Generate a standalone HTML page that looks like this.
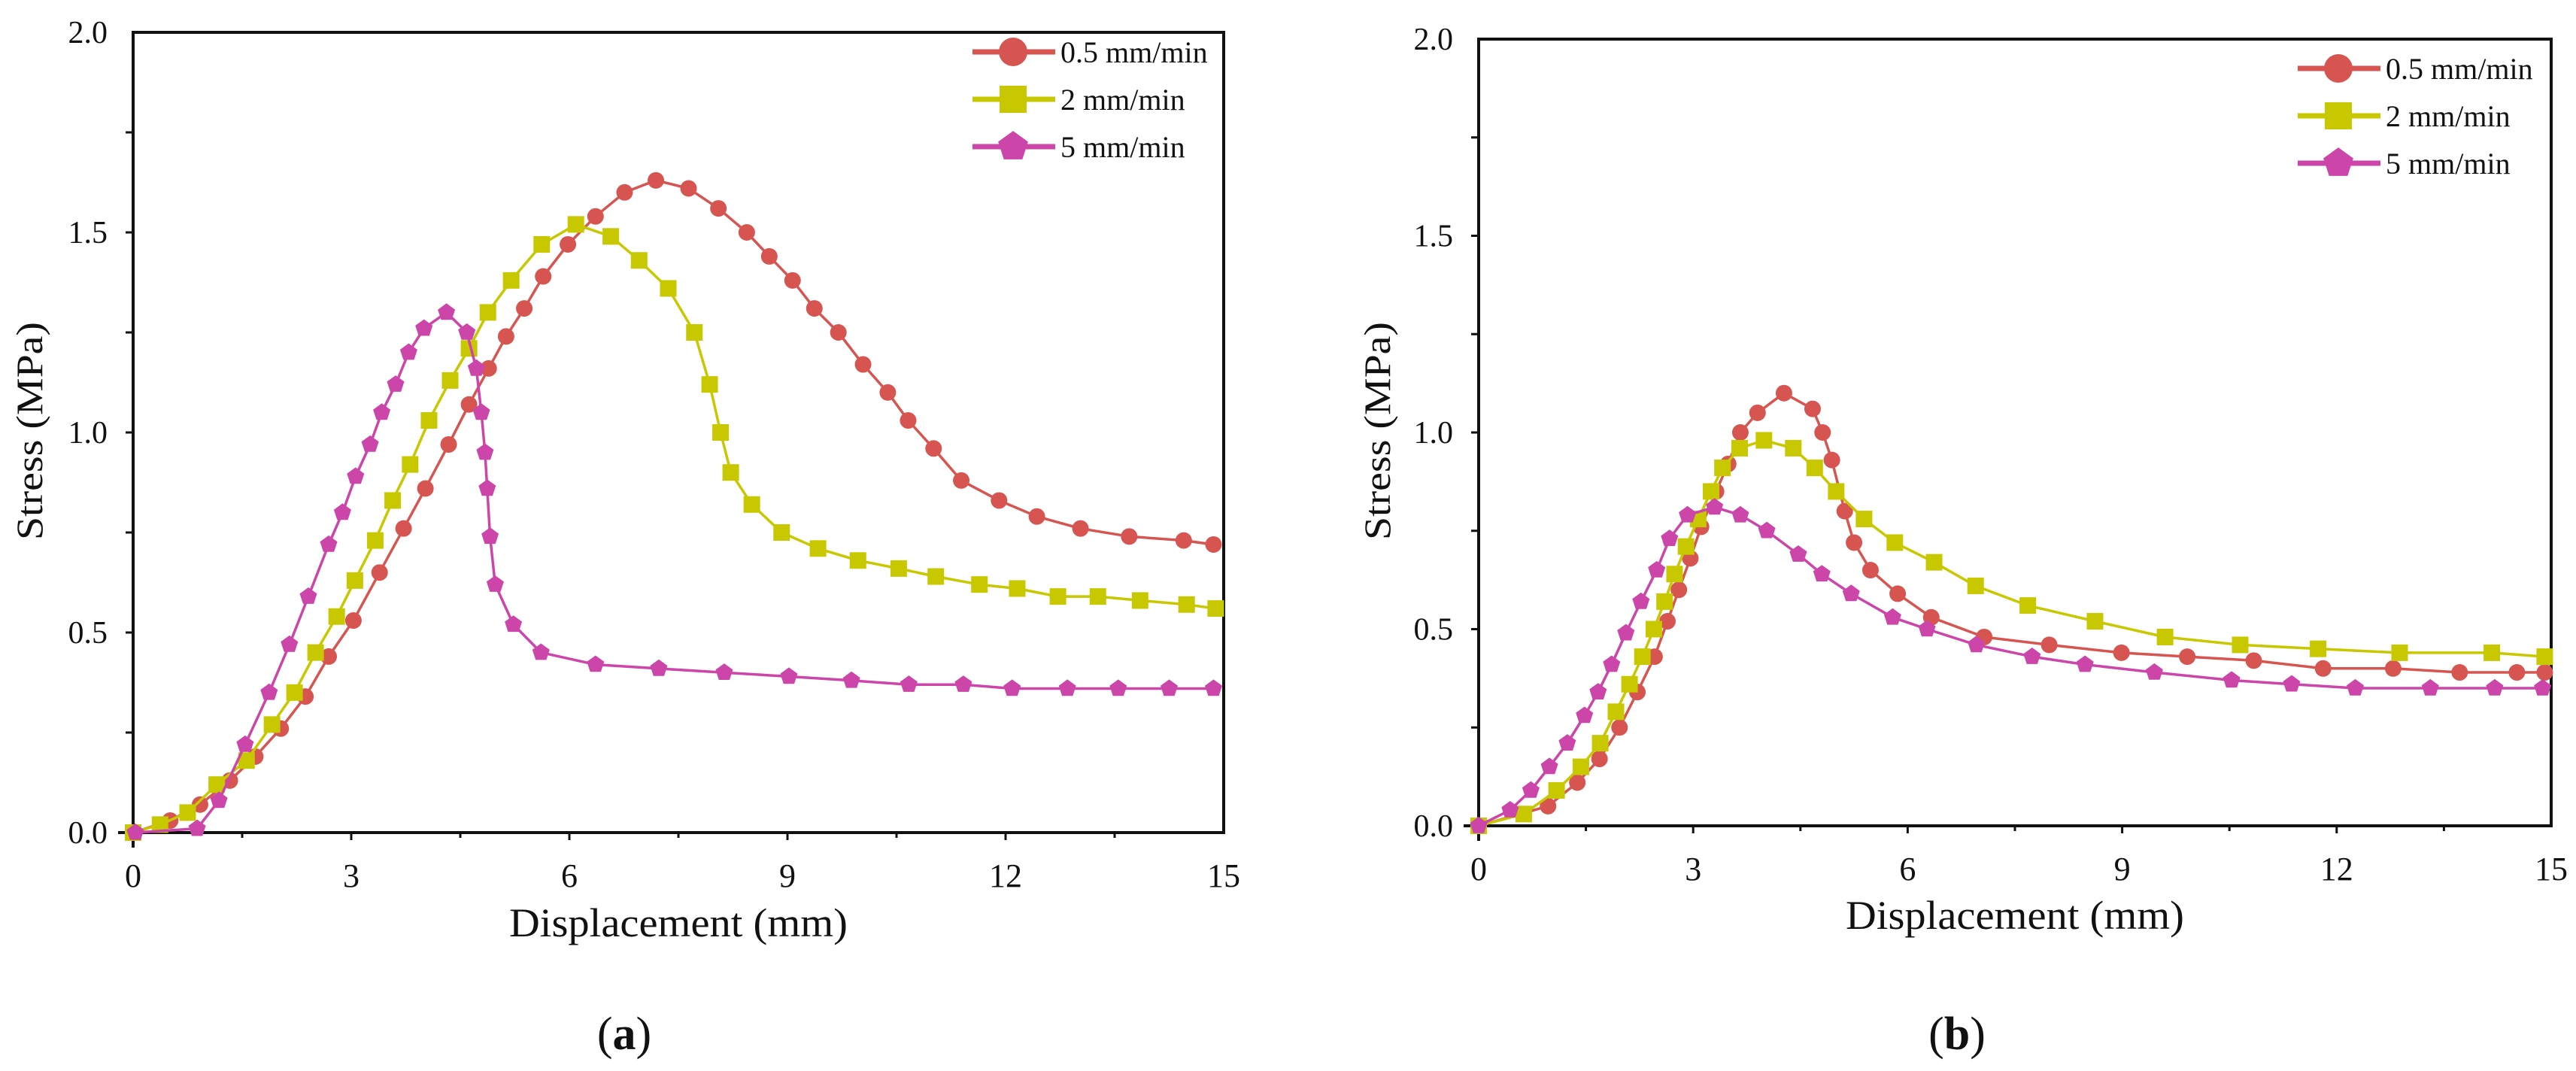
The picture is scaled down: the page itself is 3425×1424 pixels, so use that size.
<!DOCTYPE html>
<html><head><meta charset="utf-8"><style>
html,body{margin:0;padding:0;background:#fff;}
svg{display:block;}
svg text{font-family:"Liberation Serif","Times New Roman",serif;}
</style></head><body>
<svg id="fig" width="3425" height="1424" viewBox="0 0 3425 1424" xmlns="http://www.w3.org/2000/svg">
<rect width="3425" height="1424" fill="#fff"/>
</svg>
<script>
// ---- Panel (a) data ----
const aRedX=[0,0.51,0.92,1.33,1.68,2.03,2.37,2.69,3.03,3.39,3.72,4.02,4.34,4.62,4.89,5.13,5.38,5.64,5.98,6.36,6.76,7.19,7.64,8.05,8.44,8.75,9.07,9.37,9.70,10.04,10.38,10.66,11.01,11.39,11.91,12.43,13.03,13.70,14.45,14.86];
const aRedY=[0,0.03,0.07,0.13,0.19,0.26,0.34,0.44,0.53,0.65,0.76,0.86,0.97,1.07,1.16,1.24,1.31,1.39,1.47,1.54,1.60,1.63,1.61,1.56,1.50,1.44,1.38,1.31,1.25,1.17,1.10,1.03,0.96,0.88,0.83,0.79,0.76,0.74,0.73,0.72];
const aYelX=[0,0.37,0.75,1.15,1.56,1.91,2.22,2.51,2.80,3.05,3.33,3.57,3.81,4.07,4.36,4.62,4.88,5.20,5.62,6.09,6.57,6.96,7.36,7.72,7.93,8.08,8.22,8.51,8.92,9.42,9.97,10.53,11.04,11.64,12.16,12.72,13.27,13.85,14.49,14.89];
const aYelY=[0,0.02,0.05,0.12,0.18,0.27,0.35,0.45,0.54,0.63,0.73,0.83,0.92,1.03,1.13,1.21,1.30,1.38,1.47,1.52,1.49,1.43,1.36,1.25,1.12,1.00,0.90,0.82,0.75,0.71,0.68,0.66,0.64,0.62,0.61,0.59,0.59,0.58,0.57,0.56];
const aMagX=[0.03,0.88,1.18,1.54,1.87,2.15,2.41,2.69,2.88,3.06,3.26,3.42,3.61,3.79,4.00,4.31,4.59,4.72,4.79,4.84,4.87,4.91,4.98,5.23,5.61,6.36,7.23,8.13,9.02,9.88,10.67,11.42,12.09,12.85,13.55,14.25,14.86];
const aMagY=[0,0.01,0.08,0.22,0.35,0.47,0.59,0.72,0.80,0.89,0.97,1.05,1.12,1.20,1.26,1.30,1.25,1.16,1.05,0.95,0.86,0.74,0.62,0.52,0.45,0.42,0.41,0.40,0.39,0.38,0.37,0.37,0.36,0.36,0.36,0.36,0.36];
// ---- Panel (b) data ----
const bRedX=[0,0.97,1.38,1.69,1.97,2.22,2.46,2.64,2.80,2.96,3.11,3.32,3.49,3.66,3.90,4.27,4.67,4.81,4.94,5.12,5.25,5.48,5.86,6.33,7.07,7.98,8.99,9.91,10.84,11.81,12.79,13.72,14.52,14.91];
const bRedY=[0,0.05,0.11,0.17,0.25,0.34,0.43,0.52,0.60,0.68,0.76,0.85,0.92,1.00,1.05,1.10,1.06,1.00,0.93,0.80,0.72,0.65,0.59,0.53,0.48,0.46,0.44,0.43,0.42,0.40,0.40,0.39,0.39,0.39];
const bYelX=[0,0.63,1.09,1.43,1.70,1.92,2.11,2.29,2.45,2.60,2.74,2.90,3.07,3.25,3.41,3.65,3.99,4.40,4.70,5.00,5.39,5.82,6.37,6.95,7.68,8.62,9.60,10.65,11.74,12.88,14.17,14.91];
const bYelY=[0,0.03,0.09,0.15,0.21,0.29,0.36,0.43,0.50,0.57,0.64,0.71,0.78,0.85,0.91,0.96,0.98,0.96,0.91,0.85,0.78,0.72,0.67,0.61,0.56,0.52,0.48,0.46,0.45,0.44,0.44,0.43];
const bMagX=[0,0.44,0.73,0.99,1.24,1.48,1.67,1.86,2.06,2.27,2.49,2.67,2.92,3.30,3.66,4.03,4.47,4.80,5.21,5.79,6.27,6.96,7.74,8.48,9.45,10.53,11.37,12.26,13.31,14.21,14.88];
const bMagY=[0,0.04,0.09,0.15,0.21,0.28,0.34,0.41,0.49,0.57,0.65,0.73,0.79,0.81,0.79,0.75,0.69,0.64,0.59,0.53,0.50,0.46,0.43,0.41,0.39,0.37,0.36,0.35,0.35,0.35,0.35];
const xTicks=[0,3,6,9,12,15];
const yTicks=[0,0.5,1.0,1.5,2.0];
const yTickLabels=["0.0","0.5","1.0","1.5","2.0"];
const seriesNames=["0.5 mm/min","2 mm/min","5 mm/min"];

const NS="http://www.w3.org/2000/svg";
const FONT='"Liberation Serif", "Times New Roman", serif';
const svg=document.getElementById('fig');
const RED="#d65550",YEL="#c8c800",MAG="#cc45a8";
function mk(tag,attrs,parent){const e=document.createElementNS(NS,tag);for(const k in attrs)e.setAttribute(k,attrs[k]);if(tag==='text')e.setAttribute('font-family',FONT);(parent||svg).appendChild(e);return e;}

function marker(g,type,cx,cy,r,color){
  let e;
  if(type==='circle'){e=mk('circle',{cx:cx,cy:cy,r:r,fill:color},g);}
  else if(type==='square'){e=mk('rect',{x:cx-r,y:cy-r,width:2*r,height:2*r,fill:color},g);}
  else{let p=[];for(let i=0;i<5;i++){const a=-Math.PI/2+i*2*Math.PI/5;p.push((cx+r*1.1*Math.cos(a)).toFixed(1)+','+(cy+r*1.1*Math.sin(a)).toFixed(1));}
    e=mk('polygon',{points:p.join(' '),fill:color},g);}
  return e;
}

function panel(id,P,series,legendY,legendX,letter,letterX){
  const g=mk('g',{});
  
  
  const sx=v=>P.x0+(P.x1-P.x0)*v/15;
  const sy=v=>P.y0-(P.y0-P.y1)*v/2;
  const fr=mk('rect',{x:P.x0,y:P.y1,width:P.x1-P.x0,height:P.y0-P.y1,fill:'none',stroke:'#111','stroke-width':4},g);
  
  
  mk('line',{x1:P.x0-20,y1:P.y0,x2:P.x0,y2:P.y0,stroke:'#111','stroke-width':4},g);
  mk('line',{x1:P.x0,y1:P.y0,x2:P.x0,y2:P.y0+20,stroke:'#111','stroke-width':4},g);
  for(let v=1.5;v<15;v+=1.5){
    const major=Math.abs(v%3)<0.01;
    mk('line',{x1:sx(v),y1:P.y0,x2:sx(v),y2:P.y0+(major?10:7),stroke:'#111','stroke-width':3},g);
  }
  xTicks.forEach(v=>{
    const t=mk('text',{x:sx(v),y:P.y0+72,'font-size':44,'text-anchor':'middle',fill:'#111'},g);
    t.textContent=String(v);
    
    
  });
  for(let v=0.25;v<2;v+=0.25){
    mk('line',{x1:P.x0-10,y1:sy(v),x2:P.x0,y2:sy(v),stroke:'#111','stroke-width':3},g);
  }
  yTicks.forEach((v,i)=>{
    const t=mk('text',{x:P.x0-34,y:sy(v)+14,'font-size':42,'text-anchor':'end',fill:'#111'},g);
    t.textContent=yTickLabels[i];
    
    
  });
  const xt=mk('text',{x:(P.x0+P.x1)/2,y:P.xtY,'font-size':54,'text-anchor':'middle',fill:'#111',textLength:450,lengthAdjust:'spacingAndGlyphs'},g);
  xt.textContent='Displacement (mm)';
  
  
  const yt=mk('text',{x:0,y:0,'font-size':50,'text-anchor':'middle',fill:'#111',transform:`translate(${P.ytX},573) rotate(-90)`,textLength:290,lengthAdjust:'spacingAndGlyphs'},g);
  yt.textContent='Stress (MPa)';
  
  
  series.forEach((s,k)=>{
    const sg=mk('g',{},g);
    
    
    const pts=s.x.map((v,i)=>sx(v).toFixed(1)+','+sy(s.y[i]).toFixed(1)).join(' ');
    mk('polyline',{points:pts,fill:'none',stroke:s.color,'stroke-width':3.5,'stroke-linejoin':'round'},sg);
    s.x.forEach((v,i)=>{
      const m=marker(sg,s.type,sx(v),sy(s.y[i]),11,s.color);
      
      
    });
    const ly=legendY+k*63;
    const lg=mk('g',{},g);
    
    
    mk('line',{x1:legendX,y1:ly,x2:legendX+110,y2:ly,stroke:s.color,'stroke-width':7},lg);
    marker(lg,s.type,legendX+54,ly,s.type==='square'?18:19,s.color);
    const lt=mk('text',{x:legendX+117,y:ly+14,'font-size':40,fill:'#111'},lg);
    lt.textContent=seriesNames[k];
  });
  const L=mk('text',{x:letterX,y:1395,'font-size':62,'text-anchor':'middle',fill:'#111'},g);
  L.innerHTML='(<tspan font-weight="bold">'+letter+'</tspan>)';
  
  
}

panel('a',{x0:177,x1:1627,y0:1107,y1:43,xtY:1245,ytX:56},
 [{key:'0-5',x:aRedX,y:aRedY,color:RED,type:'circle'},
  {key:'2',x:aYelX,y:aYelY,color:YEL,type:'square'},
  {key:'5',x:aMagX,y:aMagY,color:MAG,type:'pent'}],69,1293,'a',830);
panel('b',{x0:1966,x1:3392,y0:1098,y1:52,xtY:1235,ytX:1848},
 [{key:'0-5',x:bRedX,y:bRedY,color:RED,type:'circle'},
  {key:'2',x:bYelX,y:bYelY,color:YEL,type:'square'},
  {key:'5',x:bMagX,y:bMagY,color:MAG,type:'pent'}],91,3055,'b',2602);
</script>
</body></html>
